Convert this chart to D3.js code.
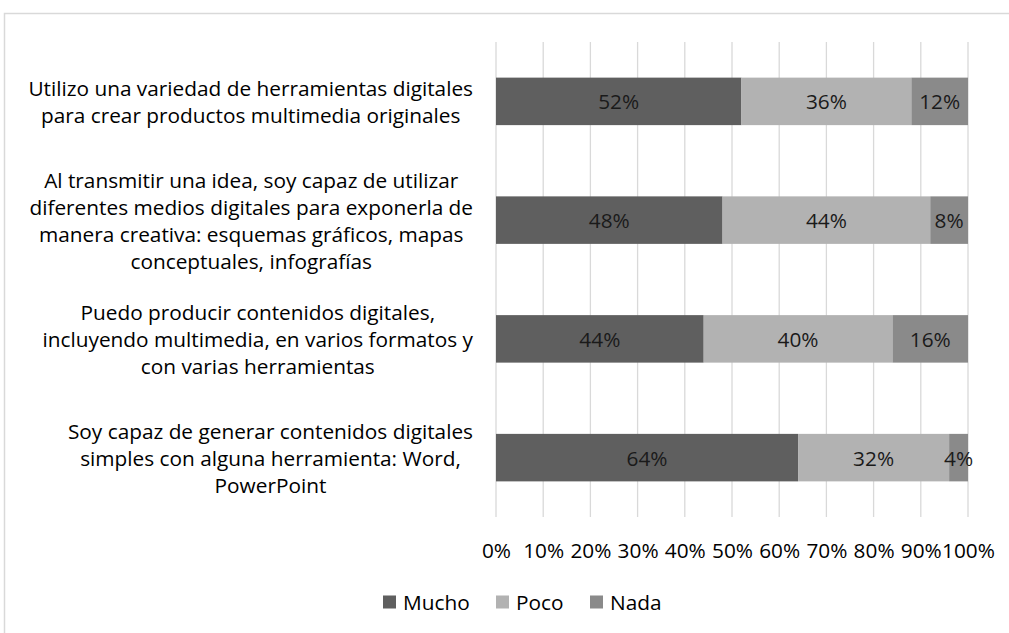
<!DOCTYPE html>
<html><head><meta charset="utf-8">
<script src="https://cdn.jsdelivr.net/npm/d3@7"></script>
<style>
body{margin:0;background:#fff;}
svg text{font-family:"Open Sans",sans-serif;fill:#000;}
</style></head>
<body><svg id="c" width="1009" height="633"></svg>
<script>
const categories = [
  ["Utilizo una variedad de herramientas digitales","para crear productos multimedia originales"],
  ["Al transmitir una idea, soy capaz de utilizar","diferentes medios digitales para exponerla de","manera creativa: esquemas gráficos, mapas","conceptuales, infografías"],
  ["Puedo producir contenidos digitales,","incluyendo multimedia, en varios formatos y","con varias herramientas"],
  ["Soy capaz de generar contenidos digitales","simples con alguna herramienta: Word,","PowerPoint"]
];
const seriesNames = ["Mucho","Poco","Nada"];
const mucho = [52,48,44,64];
const poco = [36,44,40,32];
const nada = [12,8,16,4];
const tickValues = [0,10,20,30,40,50,60,70,80,90,100];
const colors = ["#5f5f5f","#b2b2b2","#8a8a8a"];

const svg = d3.select("#c");
const fs = 20.8;
svg.append("rect").attr("x",4.5).attr("y",13.5).attr("width",1100).attr("height",700)
  .attr("fill","none").attr("stroke","#d9d9d9").attr("stroke-width",1.5);

const x = d3.scaleLinear().domain([0,100]).range([496,968]);
const y = d3.scaleBand().domain(d3.range(categories.length)).range([42,517]).paddingInner(0.6).paddingOuter(0.3);

svg.append("g").selectAll("line").data(tickValues).join("line")
  .attr("x1",d=>x(d)).attr("x2",d=>x(d)).attr("y1",42).attr("y2",517)
  .attr("stroke","#d9d9d9").attr("stroke-width",1.3);

const rows = categories.map((c,i)=>({i, vals:[mucho[i],poco[i],nada[i]]}));
const stackData = rows.map(r=>{let acc=0; return r.vals.map((v,k)=>{const s={i:r.i,k,v,x0:acc,x1:acc+v}; acc+=v; return s;});}).flat();

svg.append("g").selectAll("rect").data(stackData).join("rect")
  .attr("x",d=>x(d.x0)).attr("width",d=>x(d.x1)-x(d.x0))
  .attr("y",d=>y(d.i)).attr("height",y.bandwidth())
  .attr("fill",d=>colors[d.k]);

svg.append("g").selectAll("text").data(stackData).join("text")
  .attr("x",d=>(x(d.x0)+x(d.x1))/2).attr("y",d=>y(d.i)+y.bandwidth()/2)
  .attr("text-anchor","middle").attr("dominant-baseline","central")
  .style("font-size",fs+"px").style("fill","#1a1a1a").text(d=>d.v+"%");

const lh = 27;
const labelRight = 473;
const cg = svg.append("g");
categories.forEach((lines,i)=>{
  const cy = y(i)+y.bandwidth()/2;
  const t = cg.append("text").attr("text-anchor","middle").style("font-size",fs+"px");
  const spans = lines.map((l,j)=>t.append("tspan").attr("y",cy+(j-(lines.length-1)/2)*lh).attr("dominant-baseline","central").text(l));
  const maxW = d3.max(spans, s=>s.node().getComputedTextLength());
  spans.forEach(s=>s.attr("x",labelRight-maxW/2));
});

const xa = svg.append("g").attr("transform","translate(0,550)")
  .call(d3.axisBottom(x).tickValues(tickValues).tickFormat(d=>d+"%").tickSize(0).tickPadding(0));
xa.select(".domain").remove();
xa.selectAll("text").attr("dy",null).attr("y",0).attr("dominant-baseline","central").style("font-size",fs+"px").attr("fill","#000");

const legX = [383,496,590];
const lg = svg.append("g").selectAll("g").data(seriesNames).join("g")
  .attr("transform",(d,i)=>`translate(${legX[i]},602)`);
lg.append("rect").attr("x",0).attr("y",-6.5).attr("width",13).attr("height",13).attr("fill",(d,i)=>colors[i]);
lg.append("text").attr("x",20).attr("y",0).attr("dominant-baseline","central").style("font-size",fs+"px").text(d=>d);
</script></body></html>
